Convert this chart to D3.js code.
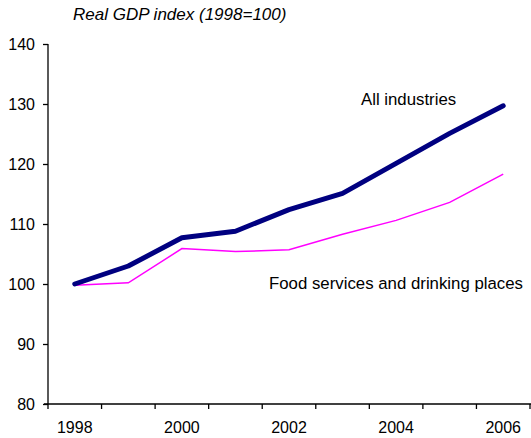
<!DOCTYPE html>
<html>
<head>
<meta charset="utf-8">
<script src="https://cdn.jsdelivr.net/npm/d3@7"></script>
<style>
  html, body { margin: 0; padding: 0; background: #fff; }
  svg { display: block; font-family: "Liberation Sans", Arial, sans-serif; }
</style>
</head>
<body>
<svg id="chart" width="531" height="438"></svg>
<script>
// Real GDP index, 1998 = 100
const years = ["1998", "1999", "2000", "2001", "2002", "2003", "2004", "2005", "2006"];
const allIndustries = [100.0, 103.0, 107.7, 108.8, 112.4, 115.1, 120.1, 125.1, 129.7];
const foodServices = [99.8, 100.2, 105.9, 105.4, 105.7, 108.3, 110.6, 113.6, 118.3];
const yTicks = [80, 90, 100, 110, 120, 130, 140];
const xLabels = ["1998", "2000", "2002", "2004", "2006"];

const svg = d3.select("#chart");
const plotLeft = 48, plotRight = 530, plotTop = 44, plotBottom = 404;

const x = d3.scaleBand().domain(years).range([plotLeft, plotRight]);
const y = d3.scaleLinear().domain([80, 140]).range([plotBottom, plotTop]);
const cx = d => x(d) + x.bandwidth() / 2;

// y axis
const yAxis = svg.append("g")
  .attr("transform", `translate(${plotLeft},0)`)
  .call(d3.axisLeft(y).tickValues(yTicks).tickSize(5).tickPadding(8).tickFormat(d3.format("d")));
yAxis.select(".domain").attr("stroke", "#000").attr("stroke-width", 1.3).attr("d", `M0,${plotTop}V${plotBottom}`);
yAxis.selectAll(".tick line").attr("stroke", "#000").attr("stroke-width", 1.3);
yAxis.selectAll(".tick text").attr("font-size", 16).attr("fill", "#000")
  .attr("font-family", "Liberation Sans, Arial, sans-serif");

// x axis: ticks sit on category boundaries, labels on every other category
const xAxisG = svg.append("g").attr("transform", `translate(0,${plotBottom})`);
xAxisG.append("line").attr("x1", plotLeft - 4).attr("x2", plotRight + 1).attr("y1", 0).attr("y2", 0)
  .attr("stroke", "#000").attr("stroke-width", 1.3);
const boundaries = years.map(d => x(d)).concat([plotRight]);
xAxisG.selectAll("line.tk").data(boundaries).join("line").attr("class", "tk")
  .attr("x1", d => d).attr("x2", d => d).attr("y1", 0).attr("y2", 5)
  .attr("stroke", "#000").attr("stroke-width", 1.3);
xAxisG.selectAll("text").data(xLabels).join("text")
  .attr("x", d => cx(d)).attr("y", 29)
  .attr("text-anchor", "middle").attr("font-size", 16).attr("fill", "#000")
  .text(d => d);

const line = d3.line().x((d, i) => cx(years[i])).y(d => y(d));

svg.append("path").datum(foodServices)
  .attr("d", line).attr("fill", "none").attr("stroke", "#ff00ff").attr("stroke-width", 1.5);
svg.append("path").datum(allIndustries)
  .attr("d", line).attr("fill", "none").attr("stroke", "#000080").attr("stroke-width", 5)
  .attr("stroke-linecap", "round").attr("stroke-linejoin", "round");

// title and series labels
svg.append("text").attr("x", 73).attr("y", 20).attr("font-size", 17).attr("font-style", "italic")
  .attr("fill", "#000").text("Real GDP index (1998=100)");
svg.append("text").attr("x", 361).attr("y", 105).attr("font-size", 16.8).attr("fill", "#000")
  .text("All industries");
svg.append("text").attr("x", 269).attr("y", 289).attr("font-size", 16.8).attr("fill", "#000")
  .attr("textLength", 254).attr("lengthAdjust", "spacing")
  .text("Food services and drinking places");
</script>
</body>
</html>
